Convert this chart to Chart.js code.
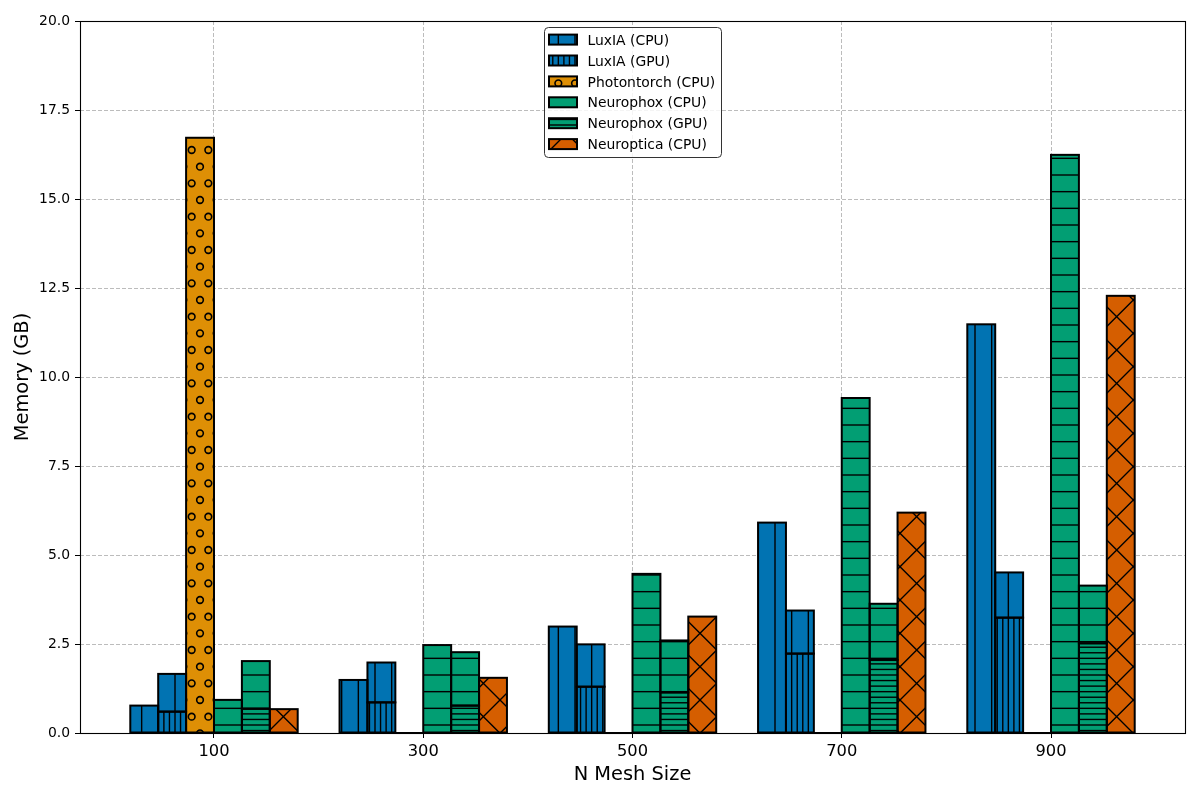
<!DOCTYPE html>
<html>
<head>
<meta charset="utf-8">
<script src="https://cdn.jsdelivr.net/npm/chart.js@4/dist/chart.umd.min.js"></script>
<style>
  html, body { margin: 0; padding: 0; background: #ffffff; }
  canvas { display: block; }
</style>
</head>
<body>
<canvas id="c" width="1200" height="800"></canvas>
<script>
// ---- data ----
const sizes = [100, 300, 500, 700, 900];
const xTickLabels = ['100', '300', '500', '700', '900'];
const yTickValues = [0, 2.5, 5, 7.5, 10, 12.5, 15, 17.5, 20];
const luxiaCpu = [0.77, 1.49, 2.99, 5.91, 11.48];
const luxiaGpuDevice = [0.60, 0.86, 1.30, 2.23, 3.24];
const luxiaGpuTotal = [1.66, 1.98, 2.49, 3.44, 4.51];
const photontorchCpu = [16.72, 0, 0, 0, 0];
const neurophoxCpu = [0.93, 2.47, 4.47, 9.41, 16.24];
const neurophoxGpuDevice = [0.68, 0.77, 1.14, 2.05, 2.52];
const neurophoxGpuTotal = [2.02, 2.27, 2.60, 3.63, 4.14];
const neuropticaCpu = [0.67, 1.55, 3.27, 6.19, 12.28];

// ---- styling ----
const COLORS = { luxia: '#0173B2', photon: '#DE8F05', neurophox: '#029E73', neuroptica: '#D55E00' };
const FONT = 'DejaVu Sans';
Chart.defaults.font.family = FONT;
Chart.defaults.color = '#000';

const canvas = document.getElementById('c');
const mainCtx = canvas.getContext('2d');

function makePattern(color, kind) {
  const T = 100;
  const c = document.createElement('canvas');
  c.width = T; c.height = T;
  const g = c.getContext('2d');
  g.fillStyle = color;
  g.fillRect(0, 0, T, T);
  const lw = 1.39;
  g.fillStyle = '#000';
  g.strokeStyle = '#000';
  g.lineWidth = lw;
  if (kind === 'v1' || kind === 'v3') {
    const n = kind === 'v1' ? 6 : 18;
    const sp = T / n;
    for (let k = 0; k < n; k++) {
      const x = sp / 2 + k * sp;
      g.fillRect(x - lw / 2, 0, lw, T);
    }
  } else if (kind === 'h1' || kind === 'h3') {
    const n = kind === 'h1' ? 6 : 18;
    const sp = T / n;
    for (let k = 0; k < n; k++) {
      const y = sp / 2 + k * sp;
      g.fillRect(0, y - lw / 2, T, lw);
    }
  } else if (kind === 'o') {
    const sp = T / 6;
    const r = sp * 0.2;
    g.lineWidth = 1.6;
    for (let row = -1; row <= 7; row++) {
      const y = row * sp;
      const even = ((row % 2) + 2) % 2 === 0;
      for (let col = -1; col <= 7; col++) {
        const x = even ? col * sp : sp / 2 + col * sp;
        g.beginPath();
        g.arc(x, y, r, 0, Math.PI * 2);
        g.stroke();
      }
    }
  } else if (kind === 'x') {
    const sp = T / 3;
    g.beginPath();
    for (let k = -4; k <= 8; k++) {
      const cst = k * sp;
      g.moveTo(-20, cst + 20); g.lineTo(T + 20, cst - T - 20);
      g.moveTo(-20, cst - 20); g.lineTo(T + 20, cst + T + 20);
    }
    g.stroke();
  }
  return mainCtx.createPattern(c, 'repeat');
}

const pat = {
  luxiaCpu: makePattern(COLORS.luxia, 'v1'),
  luxiaGpu: makePattern(COLORS.luxia, 'v3'),
  photon: makePattern(COLORS.photon, 'o'),
  nxCpu: makePattern(COLORS.neurophox, 'h1'),
  nxGpu: makePattern(COLORS.neurophox, 'h3'),
  neuroptica: makePattern(COLORS.neuroptica, 'x')
};

const pts = arr => sizes.map((s, i) => ({ x: s, y: arr[i] }));
const diff = (a, b) => a.map((v, i) => Math.max(0, +(v - b[i]).toFixed(4)));

const datasets = [
  { label: 'LuxIA (CPU)', data: pts(luxiaCpu), stack: 's0', backgroundColor: pat.luxiaCpu },
  { label: 'LuxIA (GPU)', data: pts(luxiaGpuDevice), stack: 's1', backgroundColor: pat.luxiaGpu },
  { label: 'LuxIA (GPU) total', data: pts(diff(luxiaGpuTotal, luxiaGpuDevice)), stack: 's1', backgroundColor: pat.luxiaCpu, legendHidden: true },
  { label: 'Photontorch (CPU)', data: pts(photontorchCpu), stack: 's2', backgroundColor: pat.photon },
  { label: 'Neurophox (CPU)', data: pts(neurophoxCpu), stack: 's3', backgroundColor: pat.nxCpu },
  { label: 'Neurophox (GPU)', data: pts(neurophoxGpuDevice), stack: 's4', backgroundColor: pat.nxGpu },
  { label: 'Neurophox (GPU) total', data: pts(diff(neurophoxGpuTotal, neurophoxGpuDevice)), stack: 's4', backgroundColor: pat.nxCpu, legendHidden: true },
  { label: 'Neuroptica (CPU)', data: pts(neuropticaCpu), stack: 's5', backgroundColor: pat.neuroptica }
];
datasets.forEach(d => { d.borderWidth = 0; d.barPercentage = 1.0; d.categoryPercentage = 0.8; });

const edgePlugin = {
  id: 'edges',
  afterDatasetsDraw(chart) {
    const ctx = chart.ctx;
    ctx.save();
    ctx.strokeStyle = '#000';
    ctx.lineWidth = 2;
    ctx.lineJoin = 'miter';
    chart.data.datasets.forEach((ds, i) => {
      const meta = chart.getDatasetMeta(i);
      meta.data.forEach(el => {
        const p = el.getProps(['x', 'y', 'base', 'width'], true);
        const top = Math.min(p.y, p.base);
        const h = Math.abs(p.base - p.y);
        ctx.strokeRect(p.x - p.width / 2, top, p.width, h);
      });
    });
    const a = chart.chartArea;
    ctx.lineWidth = 1.1;
    ctx.strokeRect(Math.round(a.left) + 0.5, Math.round(a.top) + 0.5,
                   Math.round(a.right) - Math.round(a.left), Math.round(a.bottom) - Math.round(a.top));
    ctx.restore();
  },
  afterDraw(chart) {
    const ctx = chart.ctx;
    const items = chart.data.datasets.filter(d => !d.legendHidden);
    ctx.save();
    ctx.beginPath();
    ctx.roundRect(544.5, 27.5, 177, 130, 4);
    ctx.fillStyle = 'rgba(255,255,255,0.85)';
    ctx.fill();
    ctx.strokeStyle = '#333';
    ctx.lineWidth = 1;
    ctx.stroke();
    items.forEach((d, i) => {
      const cy = 39.6 + i * 20.9;
      ctx.fillStyle = d.backgroundColor;
      ctx.fillRect(549, cy - 5, 28, 10);
      ctx.strokeStyle = '#000';
      ctx.lineWidth = 2;
      ctx.strokeRect(549, cy - 5, 28, 10);
      ctx.fillStyle = '#000';
      ctx.font = '13.9px "' + FONT + '"';
      ctx.textBaseline = 'middle';
      ctx.textAlign = 'left';
      ctx.fillText(d.label, 587.5, cy + 1.5);
    });
    ctx.restore();
  }
};

const gridColor = 'rgba(176,176,176,0.85)';

new Chart(canvas, {
  type: 'bar',
  data: { datasets },
  plugins: [edgePlugin],
  options: {
    responsive: false,
    animation: false,
    events: [],
    layout: { padding: { left: 0, right: 15, top: 21, bottom: 0 } },
    plugins: { legend: { display: false }, tooltip: { enabled: false } },
    scales: {
      x: {
        type: 'linear',
        min: -28.07,
        max: 1028.07,
        offset: false,
        grid: { offset: false, color: gridColor, lineWidth: 1, tickLength: 5, tickColor: '#000', tickWidth: 1 },
        border: { display: false, dash: [4, 2] },
        afterBuildTicks: axis => { axis.ticks = sizes.map(v => ({ value: v })); },
        ticks: {
          autoSkip: false, maxRotation: 0, padding: 4, color: '#000',
          font: { size: 16.3 },
          callback: v => { const i = sizes.indexOf(v); return i >= 0 ? xTickLabels[i] : ''; }
        },
        title: { display: true, text: 'N Mesh Size', color: '#000', font: { size: 19.4 }, padding: { top: 0, bottom: 13 } },
        afterFit: s => { s.height = 67; }
      },
      y: {
        type: 'linear',
        stacked: true,
        min: 0,
        max: 20,
        grid: { color: gridColor, lineWidth: 1, tickLength: 5, tickColor: '#000', tickWidth: 1 },
        border: { display: false, dash: [4, 2] },
        afterBuildTicks: axis => { axis.ticks = yTickValues.map(v => ({ value: v })); },
        ticks: { padding: 5, color: '#000', font: { size: 13.9 }, callback: v => Number(v).toFixed(1) },
        title: { display: true, text: 'Memory (GB)', color: '#000', font: { size: 19.4 }, padding: { top: 11, bottom: 0 } },
        afterFit: s => { s.width = 80; }
      }
    }
  }
});
</script>
</body>
</html>
